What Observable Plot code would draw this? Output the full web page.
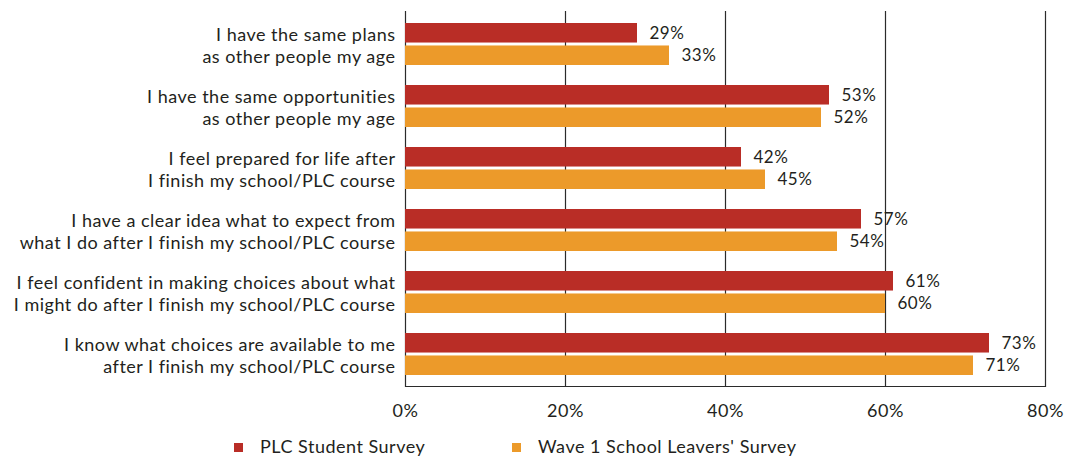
<!DOCTYPE html>
<html>
<head>
<meta charset="utf-8">
<script src="https://cdn.jsdelivr.net/npm/d3@7"></script>
<script src="https://cdn.jsdelivr.net/npm/@observablehq/plot@0.6"></script>
<style>
  html, body { margin: 0; padding: 0; background: #fff; }
  #chart { width: 1067px; font-family: Lato, "Noto Sans", sans-serif; color: #231F20; letter-spacing: 0.5px; }
  .legend { position: relative; height: 28px; font-size: 18px; }
  .legend .item { position: absolute; top: 0; line-height: 32px; white-space: nowrap; }
  .legend .sw { display: inline-block; width: 9px; height: 9px; margin-right: 17px; vertical-align: 1px; }
</style>
</head>
<body>
<div id="chart"></div>
<script>
const categories = [
  "I have the same plans\nas other people my age",
  "I have the same opportunities\nas other people my age",
  "I feel prepared for life after\nI finish my school/PLC course",
  "I have a clear idea what to expect from\nwhat I do after I finish my school/PLC course",
  "I feel confident in making choices about what\nI might do after I finish my school/PLC course",
  "I know what choices are available to me\nafter I finish my school/PLC course"
];
const seriesNames = ["PLC Student Survey", "Wave 1 School Leavers' Survey"];
const plcValues = [29, 53, 42, 57, 61, 73];
const waveValues = [33, 52, 45, 54, 60, 71];
const xTicks = [0, 20, 40, 60, 80];
const colors = ["#B92D26", "#EC9A2A"];

const plc = categories.map((c, i) => ({cat: c, value: plcValues[i]}));
const wave = categories.map((c, i) => ({cat: c, value: waveValues[i]}));

const marginTop = 11, marginBottom = 44, height = 430;
const pIn = 0.33, pOut = 0.16;
const step = (height - marginTop - marginBottom) / (categories.length - pIn + 2 * pOut);
const bw = step * (1 - pIn);
const half = bw / 2 + 1.5;

const plot = Plot.plot({
  width: 1067,
  height,
  marginTop,
  marginBottom,
  marginLeft: 405,
  marginRight: 22,
  style: {fontFamily: "Lato, 'Noto Sans', sans-serif", color: "#231F20", background: "#fff", letterSpacing: "0.5px"},
  x: {domain: [0, 80], label: null},
  y: {domain: categories, paddingInner: pIn, paddingOuter: pOut, align: 0.5, label: null},
  marks: [
    Plot.ruleX(xTicks, {stroke: "#2b2b2b", strokeWidth: 1.2}),
    Plot.barX(plc, {x: "value", y: "cat", fill: colors[0], insetBottom: half}),
    Plot.barX(wave, {x: "value", y: "cat", fill: colors[1], insetTop: half}),
    Plot.text(plc, {x: "value", y: "cat", text: d => d.value + "%", textAnchor: "start", dx: 12, dy: -(bw / 4 + 0.75), fontSize: 17, fill: "#231F20"}),
    Plot.text(wave, {x: "value", y: "cat", text: d => d.value + "%", textAnchor: "start", dx: 12, dy: (bw / 4 + 0.75), fontSize: 17, fill: "#231F20"}),
    Plot.frame({anchor: "bottom", stroke: "#2b2b2b", strokeWidth: 1.2}),
    Plot.axisX({ticks: xTicks, tickFormat: d => d + "%", tickSize: 0, tickPadding: 18, fontSize: 18, fill: "#231F20", label: null}),
    Plot.axisY({tickSize: 0, tickPadding: 10, fontSize: 18, lineHeight: 1.22, fill: "#231F20", label: null})
  ]
});

const chart = document.getElementById("chart");
chart.appendChild(plot);

const legend = document.createElement("div");
legend.className = "legend";
const lefts = [234, 512];
seriesNames.forEach((name, i) => {
  const item = document.createElement("div");
  item.className = "item";
  item.style.left = lefts[i] + "px";
  const sw = document.createElement("span");
  sw.className = "sw";
  sw.style.background = colors[i];
  item.appendChild(sw);
  item.appendChild(document.createTextNode(name));
  legend.appendChild(item);
});
chart.appendChild(legend);
</script>
</body>
</html>
